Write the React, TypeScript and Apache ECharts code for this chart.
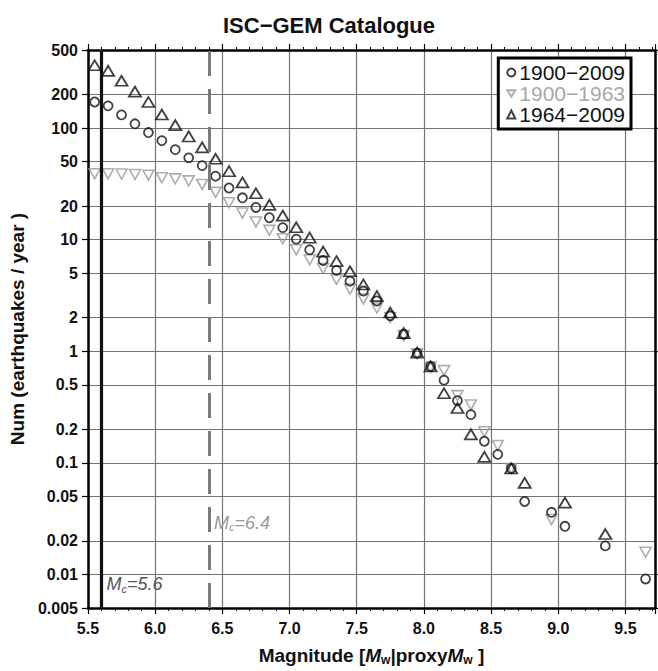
import React, { useEffect, useRef } from "react";
import * as echarts from "echarts";

const magnitudes = [5.55, 5.65, 5.75, 5.85, 5.95, 6.05, 6.15, 6.25, 6.35, 6.45, 6.55, 6.65, 6.75, 6.85, 6.95, 7.05, 7.15, 7.25, 7.35, 7.45, 7.55, 7.65, 7.75, 7.85, 7.95, 8.05, 8.15, 8.25, 8.35, 8.45, 8.55, 8.65, 8.75, 8.85, 8.95, 9.05, 9.15, 9.25, 9.35, 9.45, 9.55, 9.65];

const rate1900to2009 = [171, 158, 131, 109, 91, 77, 64, 54, 46, 37, 29, 23.7, 19.4, 15.7, 12.8, 10.1, 8.1, 6.5, 5.3, 4.24, 3.46, 2.82, 2.08, 1.42, 0.96, 0.73, 0.55, 0.36, 0.27, 0.156, 0.119, 0.089, 0.045, null, 0.036, 0.027, null, null, 0.018, null, null, 0.0091];

const rate1900to1963 = [38.9, 38.9, 38.7, 38.3, 37.8, 35.8, 35.0, 33.6, 31.2, 26.5, 21.4, 17.3, 14.4, 12.1, 10.2, 8.1, 6.6, 5.5, 4.4, 3.6, 2.94, 2.44, 2.0, 1.38, 0.95, 0.72, 0.67, 0.4, 0.33, 0.19, 0.143, 0.089, null, null, 0.031, null, null, null, null, null, null, 0.0158];

const rate1964to2009 = [365, 325, 265, 212, 171, 132, 106, 84, 67, 53, 41, 32.6, 26, 20.5, 16.4, 12.9, 10.4, 7.8, 6.4, 5.2, 3.96, 3.12, 2.22, 1.45, 0.97, 0.73, 0.42, 0.31, 0.18, 0.113, null, 0.089, 0.066, null, null, 0.044, null, null, 0.023, null, null, null];

const seriesNames = ["1900\u22122009", "1900\u22121963", "1964\u22122009"];
const completenessMags = [5.6, 6.4];
const xTickLabels = ["5.5", "6.0", "6.5", "7.0", "7.5", "8.0", "8.5", "9.0", "9.5"];

const FONT = "'Liberation Sans', Arial, Helvetica, sans-serif";

function pairs(vals: (number | null)[]) {
  const out: number[][] = [];
  magnitudes.forEach((m, i) => {
    const v = vals[i];
    if (v !== null && v !== undefined) out.push([m, v]);
  });
  return out;
}

function fmt(v: number) {
  return String(parseFloat(v.toPrecision(6)));
}

export default function App() {
  const ref = useRef<HTMLDivElement>(null);
  useEffect(() => {
    if (!ref.current) return;
    const chart = echarts.init(ref.current, null, { renderer: "svg" });
    const gridColor = "#747474";
    const yBase = {
      type: "log",
      logBase: 10,
      position: "left",
      offset: 0,
      axisLine: { show: false },
      axisTick: { show: true, inside: false, length: 6, lineStyle: { color: "#000", width: 1.2 } },
      splitLine: { show: true, lineStyle: { color: gridColor, width: 1.2 } },
      minorTick: { show: false },
      axisLabel: {
        margin: 10,
        fontSize: 16,
        fontWeight: "bold",
        color: "#111",
        fontFamily: FONT,
      },
    };
    const option: any = {
      animation: false,
      textStyle: { fontFamily: FONT },
      title: {
        text: "ISC\u2212GEM Catalogue",
        left: "center",
        top: 9,
        textStyle: { fontSize: 22, fontWeight: "bold", color: "#111", fontFamily: FONT },
      },
      legend: {
        orient: "vertical",
        right: 27,
        top: 58,
        backgroundColor: "#fff",
        borderColor: "#000",
        borderWidth: 3,
        padding: [4, 6, 4, 8],
        itemGap: 0,
        itemWidth: 8,
        itemHeight: 8,
        textStyle: { fontSize: 21, color: "#111", fontFamily: FONT, padding: [0, 0, 0, -1] },
        data: [
          { name: seriesNames[0] },
          { name: seriesNames[1], icon: "path://M0,0 L12,0 L6,10 Z", textStyle: { color: "#a8a8a8" } },
          { name: seriesNames[2] },
        ],
      },
      grid: { left: 87, right: 3, top: 50, bottom: 55, containLabel: false },
      xAxis: [
        {
          type: "value",
          min: 5.5,
          max: 9.72,
          interval: 0.5,
          position: "bottom",
          name: "{a|Magnitude [}{i|M}{s|w}{a||proxy}{i|M}{s|w}{a| ]}",
          nameLocation: "middle",
          nameGap: 36,
          nameTextStyle: {
            rich: {
              a: { fontSize: 19, fontWeight: "bold", color: "#111", fontFamily: FONT },
              i: { fontSize: 19, fontWeight: "bold", fontStyle: "italic", color: "#111", fontFamily: FONT },
              s: { fontSize: 12, fontWeight: "bold", color: "#111", fontFamily: FONT, verticalAlign: "bottom", lineHeight: 22 },
            },
          },
          axisLine: { show: true, onZero: false, lineStyle: { color: "#000", width: 2.5 } },
          axisTick: { show: true, inside: false, length: 6, lineStyle: { color: "#000", width: 1.2 } },
          minorTick: { show: true, splitNumber: 5, length: 3, lineStyle: { color: "#000", width: 1 } },
          splitLine: { show: true, lineStyle: { color: gridColor, width: 1.2 } },
          axisLabel: {
            margin: 12,
            fontSize: 16,
            fontWeight: "bold",
            color: "#111",
            fontFamily: FONT,
            formatter: (v: number) => {
              const s = v.toFixed(1);
              return xTickLabels.includes(s) && Math.abs(v - parseFloat(s)) < 1e-6 ? s : "";
            },
          },
        },
        {
          type: "value",
          min: 5.5,
          max: 9.72,
          interval: 0.5,
          position: "top",
          axisLine: { show: true, onZero: false, lineStyle: { color: "#000", width: 2.5 } },
          axisTick: { show: true, inside: false, length: 6, lineStyle: { color: "#000", width: 1.2 } },
          minorTick: { show: true, splitNumber: 5, length: 3, lineStyle: { color: "#000", width: 1 } },
          splitLine: { show: false },
          axisLabel: { show: false },
        },
      ],
      yAxis: [
        {
          ...yBase,
          min: 0.005,
          max: 500,
          name: "Num (earthquakes / year )",
          nameLocation: "middle",
          nameGap: 57,
          nameTextStyle: { fontSize: 19, fontWeight: "bold", color: "#111", fontFamily: FONT },
          axisLine: { show: true, onZero: false, lineStyle: { color: "#000", width: 2.5 } },
          axisLabel: { ...yBase.axisLabel, formatter: (v: number) => fmt(v) },
        },
        {
          ...yBase,
          min: 0.0025,
          max: 250,
          axisLabel: { ...yBase.axisLabel, showMinLabel: false, showMaxLabel: false, formatter: (v: number) => fmt(v * 2) },
        },
        {
          ...yBase,
          min: 0.001,
          max: 100,
          axisLabel: { ...yBase.axisLabel, showMinLabel: false, showMaxLabel: false, formatter: (v: number) => fmt(v * 5) },
        },
        {
          type: "log",
          logBase: 10,
          min: 0.005,
          max: 500,
          position: "right",
          offset: 0,
          axisLine: { show: true, onZero: false, lineStyle: { color: "#000", width: 2.5 } },
          axisTick: { show: true, inside: false, length: 4, lineStyle: { color: "#000", width: 1.2 } },
          splitLine: { show: false },
          axisLabel: { show: false },
        },
      ],
      series: [
        {
          name: seriesNames[1],
          type: "scatter",
          xAxisIndex: 0,
          yAxisIndex: 0,
          symbol: "triangle",
          symbolRotate: 180,
          symbolSize: [11, 10],
          itemStyle: { color: "rgba(255,255,255,0)", borderColor: "#9a9a9a", borderWidth: 1.6 },
          data: pairs(rate1900to1963),
          markLine: {
            silent: true,
            symbol: ["none", "none"],
            label: { show: false },
            data: [
              { xAxis: completenessMags[0], lineStyle: { color: "#111", width: 3.2, type: "solid" } },
              { xAxis: completenessMags[1], lineStyle: { color: "#7a7a7a", width: 3, type: [25, 13] } },
            ],
          },
          markPoint: {
            silent: true,
            symbol: "circle",
            symbolSize: 1,
            itemStyle: { color: "rgba(0,0,0,0)" },
            label: {
              show: true,
              position: "right",
              distance: 2,
            },
            data: [
              {
                coord: [completenessMags[0] + 0.02, 0.0082],
                label: {
                  formatter: "{m|M}{s|c}{m|=5.6}",
                  rich: {
                    m: { fontSize: 18, fontStyle: "italic", color: "#555", fontFamily: FONT },
                    s: { fontSize: 11, fontStyle: "italic", color: "#555", fontFamily: FONT, verticalAlign: "bottom", lineHeight: 20 },
                  },
                },
              },
              {
                coord: [completenessMags[1] + 0.02, 0.029],
                label: {
                  formatter: "{m|M}{s|c}{m|=6.4}",
                  rich: {
                    m: { fontSize: 18, fontStyle: "italic", color: "#9a9a9a", fontFamily: FONT },
                    s: { fontSize: 11, fontStyle: "italic", color: "#9a9a9a", fontFamily: FONT, verticalAlign: "bottom", lineHeight: 20 },
                  },
                },
              },
            ],
          },
        },
        {
          name: seriesNames[0],
          type: "scatter",
          xAxisIndex: 0,
          yAxisIndex: 0,
          symbol: "circle",
          symbolSize: 9,
          itemStyle: { color: "rgba(255,255,255,0)", borderColor: "#111", borderWidth: 1.8 },
          data: pairs(rate1900to2009),
        },
        {
          name: seriesNames[2],
          type: "scatter",
          xAxisIndex: 0,
          yAxisIndex: 0,
          symbol: "triangle",
          symbolSize: [12, 10],
          itemStyle: { color: "rgba(255,255,255,0)", borderColor: "#111", borderWidth: 1.8 },
          data: pairs(rate1964to2009),
        },
      ],
    };
    chart.setOption(option);
    return () => chart.dispose();
  }, []);
  return (
    <div
      ref={ref}
      style={{ position: "absolute", left: 0, top: 0, width: 658, height: 671, background: "#fff" }}
    />
  );
}
